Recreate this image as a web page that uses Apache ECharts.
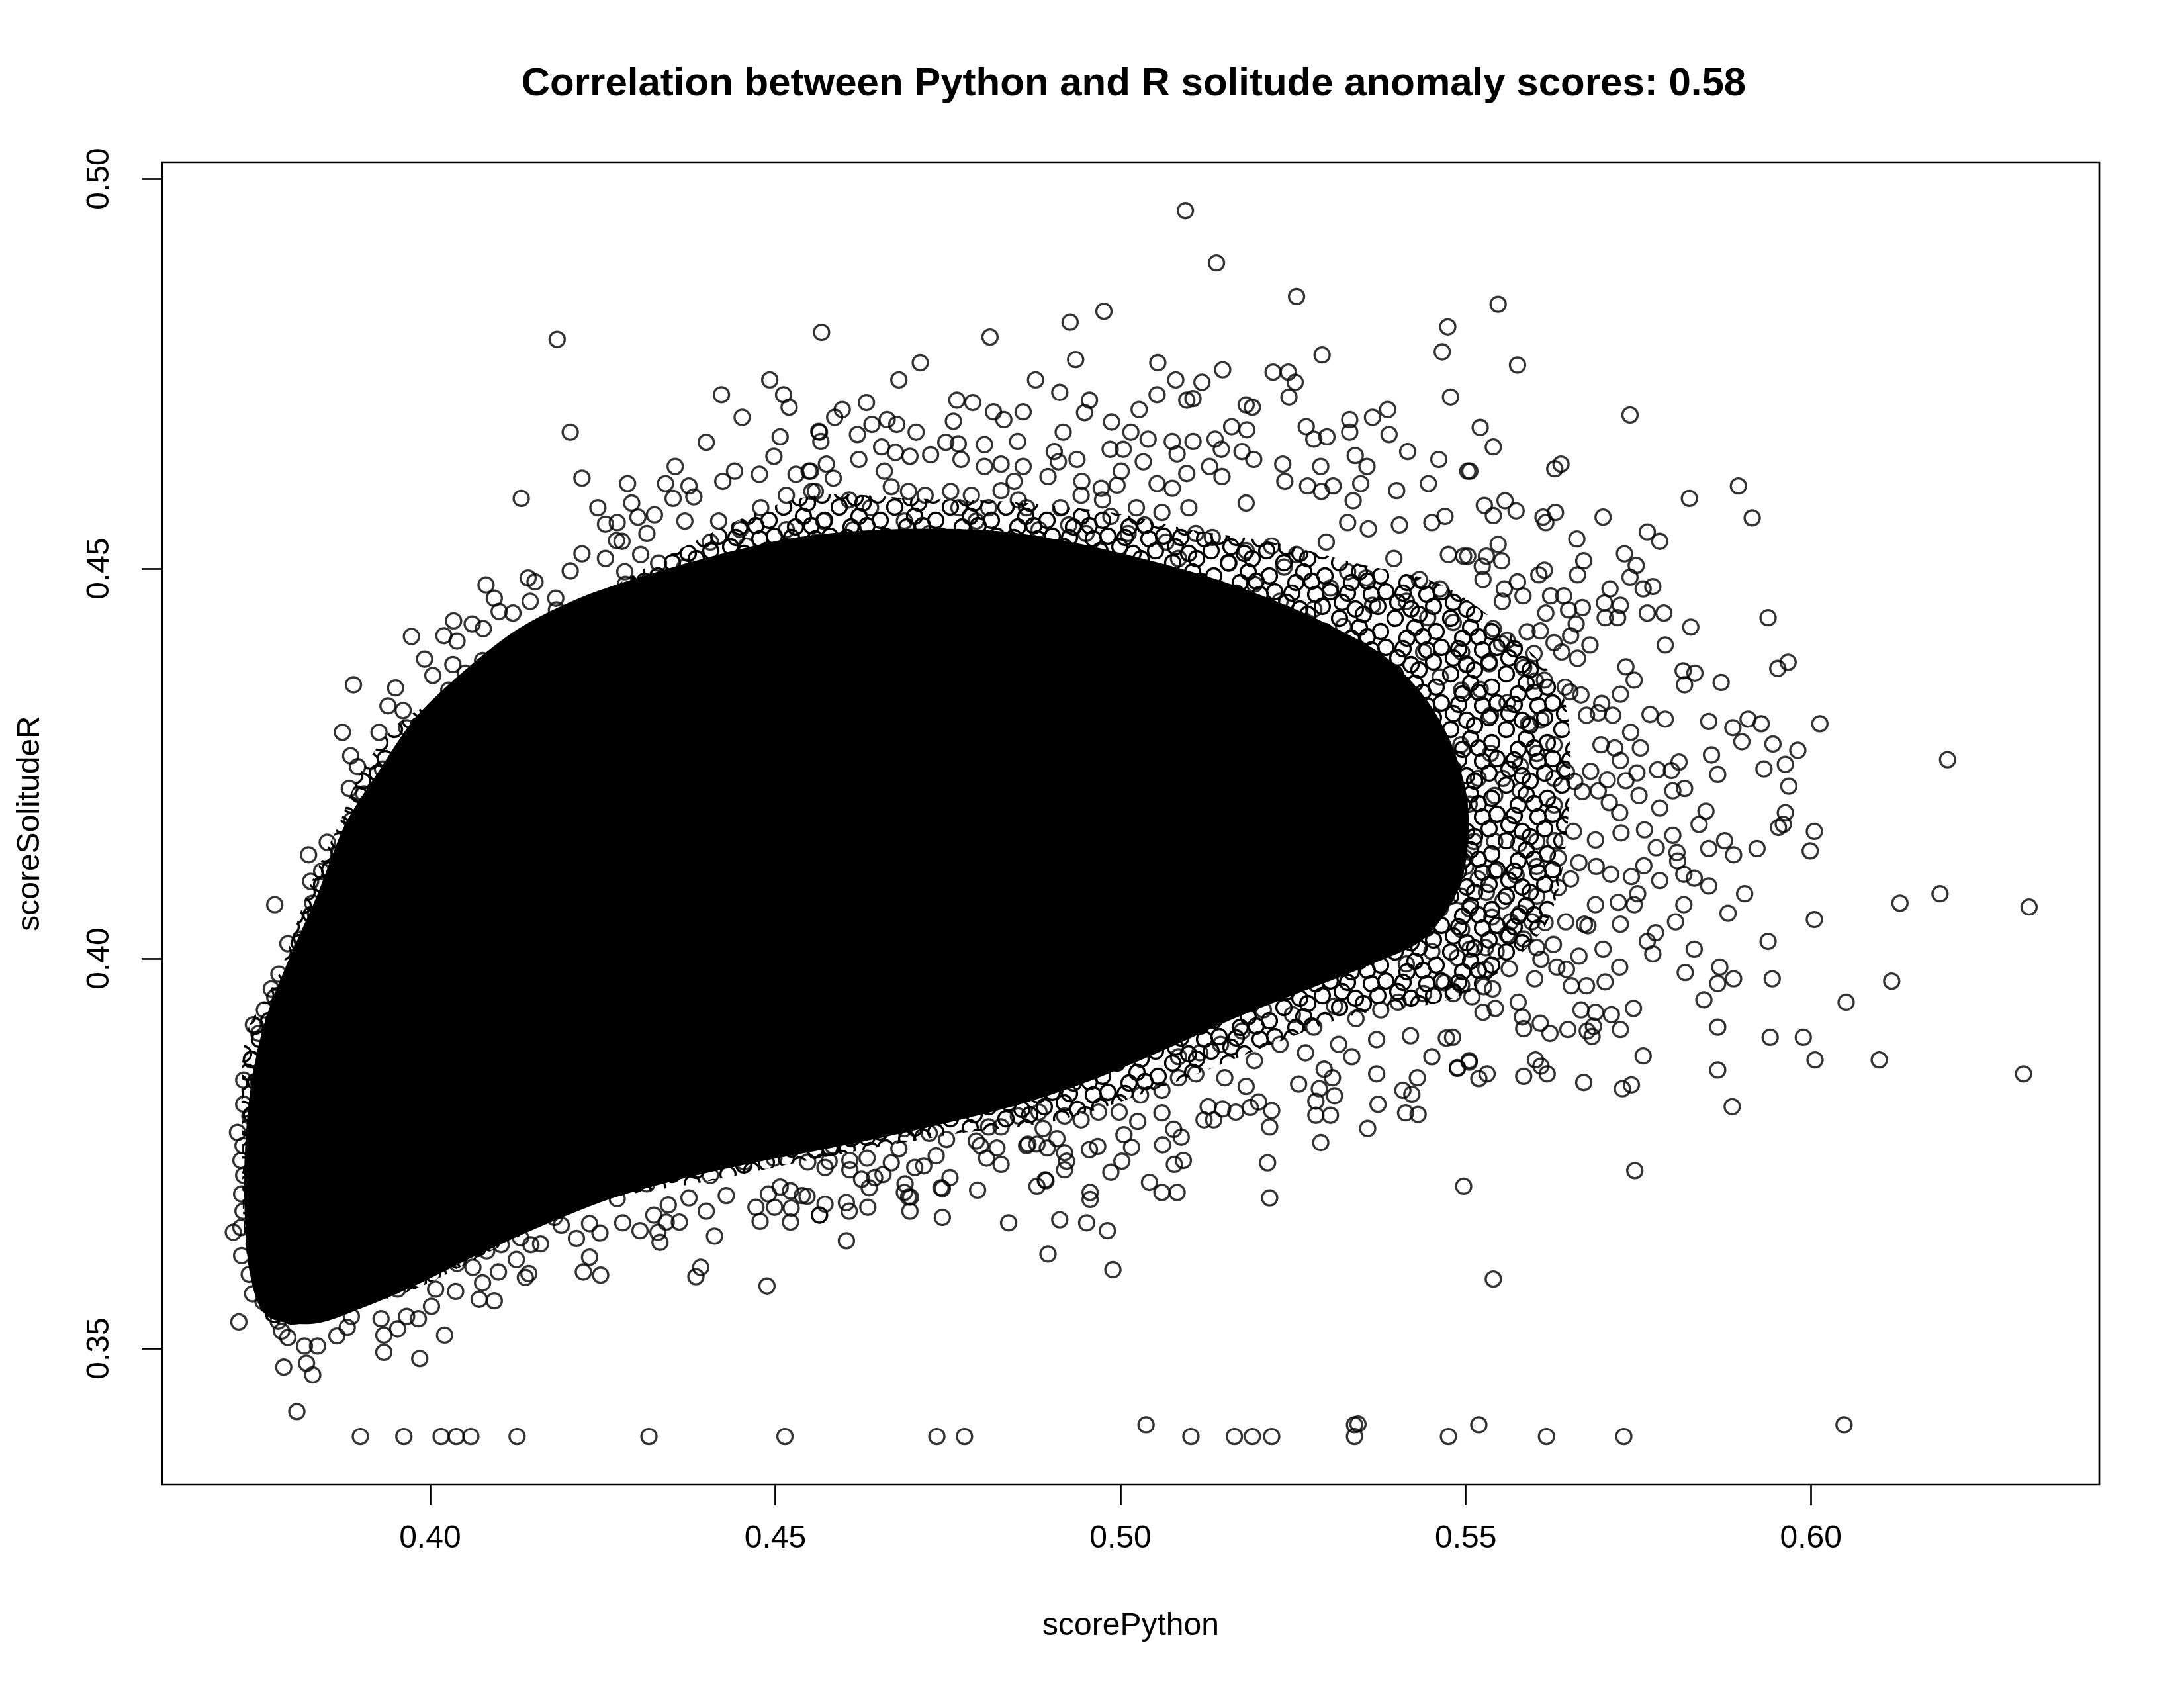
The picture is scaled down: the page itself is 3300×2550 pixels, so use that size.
<!DOCTYPE html>
<html>
<head>
<meta charset="utf-8">
<script src="https://cdn.jsdelivr.net/npm/echarts@6/dist/echarts.min.js"></script>
<style>
html,body{margin:0;padding:0;background:#fff;}
#chart{width:3300px;height:2550px;}
</style>
</head>
<body>
<div id="chart"></div>
<script>
// ---- text ----
const titleText = 'Correlation between Python and R solitude anomaly scores: 0.58';
const xName = 'scorePython';
const yName = 'scoreSolitudeR';
// ---- axes ----
const xTicks = [0.40, 0.45, 0.50, 0.55, 0.60];
const yTicks = [0.35, 0.40, 0.45, 0.50];
const xRange = [0.36119, 0.64177];
const yRange = [0.33251, 0.50212];

// ---- saturated (solid black) core of the point cloud, outline ----
const coreOutline = [
[0.3830,0.3535],[0.3765,0.3545],[0.3742,0.3600],[0.3735,0.3680],[0.3736,0.3760],[0.3745,0.3840],
[0.3765,0.3920],[0.3800,0.4000],[0.3840,0.4080],[0.3880,0.4170],[0.3930,0.4240],[0.3980,0.4305],
[0.4050,0.4365],[0.4130,0.4420],[0.4220,0.4460],[0.4320,0.4490],[0.4420,0.4515],[0.4520,0.4535],
[0.4620,0.4545],[0.4720,0.4548],[0.4820,0.4545],[0.4920,0.4532],[0.5020,0.4512],[0.5120,0.4488],
[0.5210,0.4460],[0.5300,0.4425],[0.5380,0.4385],[0.5440,0.4330],[0.5480,0.4265],[0.5500,0.4190],
[0.5490,0.4100],[0.5440,0.4030],[0.5360,0.3995],[0.5260,0.3960],[0.5160,0.3925],[0.5060,0.3885],
[0.4960,0.3848],[0.4860,0.3818],[0.4760,0.3795],[0.4660,0.3775],[0.4560,0.3757],[0.4460,0.3740],
[0.4360,0.3720],[0.4260,0.3695],[0.4160,0.3660],[0.4060,0.3620],[0.3980,0.3585],[0.3900,0.3555]
];

// ---- outline of the band of heavily overlapping circles around the core ----
const denseOutline = [
[0.3800,0.3530],[0.3760,0.3540],[0.3733,0.3630],[0.3728,0.3760],[0.3733,0.3900],[0.3782,0.3982],
[0.3825,0.4091],[0.3868,0.4172],[0.3898,0.4236],[0.3953,0.4301],[0.4039,0.4345],[0.4130,0.4400],
[0.4222,0.4453],[0.4310,0.4500],[0.4406,0.4545],[0.4490,0.4578],[0.4570,0.4595],[0.4700,0.4590],
[0.4850,0.4585],[0.5000,0.4570],[0.5100,0.4550],[0.5219,0.4534],[0.5341,0.4507],[0.5463,0.4480],
[0.5560,0.4420],[0.5640,0.4340],[0.5650,0.4200],[0.5620,0.4050],[0.5530,0.3970],[0.5463,0.3944],
[0.5341,0.3928],[0.5219,0.3890],[0.5096,0.3847],[0.4913,0.3793],[0.4760,0.3775],[0.4570,0.3745],
[0.4406,0.3715],[0.4222,0.3684],[0.4100,0.3630],[0.3978,0.3576],[0.3880,0.3549]
];

// ---- individual points above the core (left part) ----
const upperLeft = [
[0.4184,0.4794],[0.4567,0.4803],[0.4203,0.4675],[0.4132,0.4590],[0.4220,0.4616],[0.4492,0.4742],
[0.4422,0.4723],[0.4512,0.4723],[0.4520,0.4707],[0.4452,0.4694],[0.4507,0.4669],[0.4400,0.4662],
[0.4498,0.4644],[0.4563,0.4676],[0.4355,0.4631],[0.4286,0.4609],[0.4341,0.4609],[0.4441,0.4625],
[0.4477,0.4621],[0.4549,0.4625],[0.4530,0.4621],[0.4375,0.4606],[0.4352,0.4590],[0.4382,0.4592],
[0.4424,0.4612],[0.4292,0.4584],[0.4243,0.4578],[0.4325,0.4569],[0.4301,0.4566],[0.4254,0.4557],
[0.4271,0.4559],[0.4278,0.4535],[0.4270,0.4536],[0.4220,0.4519],[0.4203,0.4497],[0.4254,0.4513],
[0.4282,0.4496],[0.4314,0.4545],[0.4331,0.4507],[0.4305,0.4518],[0.4142,0.4488],[0.4152,0.4483],
[0.4081,0.4479],[0.4093,0.4462],[0.4100,0.4445],[0.4120,0.4443],[0.4145,0.4458],[0.4182,0.4462],
[0.4034,0.4433],[0.4020,0.4414],[0.4061,0.4429],[0.4077,0.4423],[0.4039,0.4407],[0.3973,0.4413],
[0.3992,0.4384],[0.4004,0.4363],[0.3889,0.4351],[0.3950,0.4347],[0.3939,0.4324],[0.3961,0.4318],
[0.3873,0.4290],[0.3926,0.4290],[0.3966,0.4296],[0.3885,0.4260],[0.3895,0.4246],[0.3931,0.4243],
[0.3883,0.4218],[0.3904,0.4211],[0.3886,0.4177],[0.4033,0.4377],[0.4111,0.4393],[0.4131,0.4383],
[0.4051,0.4366],[0.4076,0.4382],[0.4183,0.4447],[0.4283,0.4480],[0.4320,0.4464],[0.4369,0.4502],
[0.4406,0.4534],[0.4458,0.4529],[0.4479,0.4578],[0.4516,0.4594],[0.4553,0.4599],[0.4418,0.4561],
[0.4369,0.4561],[0.4449,0.4550],[0.4516,0.4550],
[0.4222,0.4426],[0.4253,0.4399],[0.4192,0.4382],[0.4161,0.4361],[0.4149,0.4404],[0.4314,0.4437],
[0.4357,0.4453],[0.4394,0.4480],[0.4437,0.4491],[0.4479,0.4502],[0.4528,0.4513],[0.4559,0.4534],
[0.4498,0.4469],[0.4424,0.4448],[0.4345,0.4415],[0.4284,0.4382],[0.4100,0.4339],[0.4076,0.4318],
[0.4039,0.4301],[0.4008,0.4318],[0.3990,0.4274],[0.3978,0.4252],[0.3953,0.4231],[0.3941,0.4209],
[0.3929,0.4187],[0.4027,0.4344],[0.4131,0.4355],[0.4198,0.4350]
];

// ---- individual points above the core (middle part) ----
const upperMiddle = [
[0.5094,0.4959],[0.5139,0.4892],[0.5255,0.4849],[0.4976,0.4830],[0.4927,0.4816],[0.4811,0.4797],
[0.5474,0.4810],[0.5466,0.4778],[0.5292,0.4774],[0.4935,0.4768],[0.4710,0.4764],[0.5054,0.4764],
[0.5148,0.4755],[0.4679,0.4742],[0.4877,0.4742],[0.5080,0.4742],[0.5221,0.4752],[0.5243,0.4752],
[0.5253,0.4739],[0.5118,0.4739],[0.5244,0.4720],[0.5478,0.4720],[0.4912,0.4726],[0.5053,0.4723],
[0.4632,0.4713],[0.4597,0.4704],[0.4586,0.4694],[0.4955,0.4716],[0.4948,0.4700],[0.5096,0.4716],
[0.5105,0.4718],[0.5027,0.4704],[0.5182,0.4710],[0.5191,0.4707],[0.5387,0.4704],[0.5365,0.4694],
[0.5332,0.4691],[0.4763,0.4716],[0.4786,0.4713],[0.4859,0.4701],[0.4816,0.4701],[0.4831,0.4691],
[0.4564,0.4675],[0.4566,0.4663],[0.4619,0.4672],[0.4640,0.4685],[0.4662,0.4691],[0.4676,0.4685],
[0.4704,0.4675],[0.4758,0.4689],[0.4987,0.4688],[0.5161,0.4682],[0.5183,0.4678],[0.5269,0.4682],
[0.5280,0.4666],[0.5299,0.4669],[0.5332,0.4675],[0.5389,0.4672],[0.5416,0.4650],[0.5461,0.4640],
[0.5503,0.4625],[0.5446,0.4609],[0.5400,0.4600],[0.5340,0.4645],[0.5357,0.4631],[0.5348,0.4609],
[0.5337,0.4587],[0.5290,0.4631],[0.5271,0.4606],[0.5235,0.4634],[0.5238,0.4612],[0.5176,0.4650],
[0.5193,0.4640],[0.5137,0.4666],[0.5146,0.4653],[0.5129,0.4631],[0.5147,0.4618],[0.5096,0.4622],
[0.5105,0.4663],[0.5075,0.4663],[0.5082,0.4647],[0.5053,0.4609],[0.5075,0.4603],[0.5099,0.4578],
[0.5040,0.4666],[0.5015,0.4675],[0.4985,0.4653],[0.5004,0.4653],[0.5033,0.4637],[0.5001,0.4625],
[0.4944,0.4612],[0.4910,0.4637],[0.4937,0.4640],[0.4904,0.4650],[0.4917,0.4675],[0.4851,0.4663],
[0.4803,0.4659],[0.4765,0.4660],[0.4747,0.4662],[0.4827,0.4634],[0.4803,0.4631],[0.4859,0.4631],
[0.4895,0.4618],[0.4769,0.4640],[0.4725,0.4646],[0.4695,0.4644],[0.4674,0.4649],[0.4654,0.4656],
[0.4621,0.4640],[0.4551,0.4625],[0.4574,0.4634],[0.4584,0.4616],[0.4658,0.4625],[0.4846,0.4612],
[0.4827,0.4600],[0.4943,0.4594],[0.4972,0.4603],[0.4995,0.4607],[0.5182,0.4584],[0.5308,0.4606],
[0.5291,0.4599],[0.5329,0.4559],[0.5359,0.4551],[0.5404,0.4556],[0.5451,0.4559],[0.5470,0.4567],
[0.5475,0.4518],[0.5497,0.4516],[0.5463,0.4474],[0.5433,0.4486],[0.5396,0.4513],[0.5356,0.4488],
[0.5329,0.4496],[0.5365,0.4453],[0.5414,0.4458],[0.5445,0.4437],[0.5482,0.4431],[0.5494,0.4393],
[0.5439,0.4393],[0.5463,0.4361],[0.5494,0.4344],[0.5298,0.4534],[0.5255,0.4518],[0.5219,0.4529],
[0.5182,0.4523],[0.5133,0.4540],[0.5157,0.4507],[0.5237,0.4502],[0.5304,0.4475],[0.5280,0.4448],
[0.5323,0.4426],
[0.4558,0.4599],[0.4570,0.4561],[0.4607,0.4588],[0.4638,0.4578],[0.4613,0.4550],[0.4583,0.4518],
[0.4644,0.4534],[0.4668,0.4605],[0.4693,0.4599],[0.4717,0.4594],[0.4687,0.4561],[0.4723,0.4545],
[0.4699,0.4523],[0.4668,0.4507],[0.4754,0.4599],[0.4766,0.4578],[0.4784,0.4594],[0.4791,0.4561],
[0.4754,0.4534],[0.4809,0.4578],[0.4821,0.4534],[0.4852,0.4588],[0.4864,0.4578],[0.4882,0.4550],
[0.4839,0.4507],[0.4913,0.4578],[0.4925,0.4556],[0.4901,0.4518],[0.4950,0.4545],[0.4974,0.4588],
[0.4986,0.4567],[0.5011,0.4545],[0.5023,0.4578],[0.5035,0.4556],[0.5060,0.4572],[0.5066,0.4534],
[0.4974,0.4507],[0.5023,0.4502],[0.5084,0.4513],[0.5109,0.4545],[0.4778,0.4507],[0.4619,0.4491],
[0.4729,0.4491],[0.4888,0.4486],[0.4943,0.4480],[0.5084,0.4475],[0.5133,0.4458],[0.5194,0.4480],
[0.5231,0.4458]
];

// ---- right-hand spread of points ----
const rightSpread = [
[0.5547,0.4839],[0.5575,0.4761],[0.5738,0.4697],[0.5521,0.4681],[0.5540,0.4656],[0.5506,0.4625],
[0.5629,0.4628],[0.5638,0.4634],[0.5895,0.4606],[0.5824,0.4590],[0.5915,0.4565],[0.5527,0.4581],
[0.5540,0.4568],[0.5557,0.4587],[0.5573,0.4574],[0.5612,0.4566],[0.5630,0.4572],[0.5616,0.4559],
[0.5699,0.4566],[0.5661,0.4538],[0.5763,0.4547],[0.5781,0.4535],[0.5730,0.4519],[0.5747,0.4504],
[0.5738,0.4489],[0.5671,0.4510],[0.5662,0.4492],[0.5547,0.4531],[0.5503,0.4516],[0.5530,0.4516],
[0.5552,0.4510],[0.5524,0.4503],[0.5525,0.4486],[0.5575,0.4483],[0.5556,0.4474],[0.5606,0.4492],
[0.5614,0.4498],[0.5583,0.4465],[0.5553,0.4458],[0.5623,0.4465],[0.5642,0.4465],[0.5616,0.4443],
[0.5669,0.4450],[0.5649,0.4447],[0.5709,0.4474],[0.5701,0.4456],[0.5724,0.4453],[0.5702,0.4437],
[0.5720,0.4437],[0.5757,0.4474],[0.5771,0.4477],[0.5763,0.4443],[0.5787,0.4443],[0.5826,0.4425],
[0.5789,0.4402],[0.5938,0.4437],[0.5967,0.4380],[0.5952,0.4372],[0.5870,0.4354],[0.5815,0.4369],
[0.5832,0.4366],[0.5817,0.4351],[0.5732,0.4374],[0.5744,0.4357],[0.5724,0.4339],[0.6013,0.4301],
[0.6198,0.4255],[0.5852,0.4304],[0.5887,0.4296],[0.5909,0.4307],[0.5928,0.4301],[0.5900,0.4278],
[0.5945,0.4275],[0.5981,0.4267],[0.5963,0.4249],[0.5932,0.4243],[0.5968,0.4221],[0.5963,0.4187],
[0.5856,0.4261],[0.5865,0.4236],[0.5767,0.4313],[0.5789,0.4307],[0.5809,0.4252],[0.5778,0.4242],
[0.5798,0.4241],[0.5817,0.4218],[0.5800,0.4215],[0.5848,0.4189],[0.5781,0.4193],[0.5748,0.4238],
[0.5751,0.4209],[0.5732,0.4228],[0.5753,0.4270],[0.5739,0.4290],[0.5716,0.4270],[0.5696,0.4274],
[0.5705,0.4229],[0.5724,0.4254],[0.5723,0.4187],[0.5692,0.4215],[0.5708,0.4200],[0.5669,0.4214],
[0.5658,0.4227],[0.5681,0.4240],[0.5646,0.4239],[0.5628,0.4197],[0.5697,0.4327],[0.5692,0.4315],
[0.5713,0.4312],[0.5675,0.4312],[0.5667,0.4338],[0.5651,0.4342],[0.5644,0.4348],[0.5680,0.4402],
[0.5662,0.4385],[0.5652,0.4414],[0.5660,0.4429],[0.5639,0.4393],[0.5608,0.4420],[0.5628,0.4405],
[0.5589,0.4419],[0.5599,0.4391],[0.5614,0.4357],[0.5601,0.4356],[0.5584,0.4373],[0.5560,0.4408],
[0.5552,0.4404],[0.5540,0.4423],[0.5501,0.4378],[0.5534,0.4378],[0.5521,0.4345],[0.5560,0.4328],
[0.5536,0.4312],[0.5591,0.4301],[0.5609,0.4306],[0.5628,0.4274],[0.5603,0.4263],[0.5579,0.4247],
[0.5554,0.4231],[0.5579,0.4215],[0.5542,0.4209],[0.5518,0.4231],[0.5505,0.4198],[0.5628,0.4231],
[0.5536,0.4263],[0.5493,0.4274],
[0.6316,0.4066],[0.6187,0.4083],[0.6129,0.4071],[0.6117,0.3971],[0.6051,0.3944],[0.6308,0.3852],
[0.6099,0.3870],[0.6006,0.3870],[0.5989,0.3899],[0.5941,0.3899],[0.5944,0.3974],[0.6005,0.4050],
[0.5999,0.4138],[0.6005,0.4163],[0.5938,0.4022],[0.5904,0.4083],[0.5922,0.4141],[0.5880,0.4058],
[0.5888,0.3974],[0.5868,0.3989],[0.5865,0.3968],[0.5845,0.3947],[0.5865,0.3912],[0.5865,0.3857],
[0.5886,0.3810],[0.5757,0.3875],[0.5740,0.3838],[0.5727,0.3833],[0.5671,0.3841],[0.5618,0.3852],
[0.5609,0.3862],[0.5601,0.3870],[0.5584,0.3849],[0.5531,0.3852],[0.5519,0.3846],[0.5505,0.3867],
[0.5488,0.3859],[0.5743,0.3936],[0.5724,0.3909],[0.5711,0.3928],[0.5683,0.3900],[0.5685,0.3913],
[0.5676,0.3907],[0.5688,0.3931],[0.5667,0.3934],[0.5648,0.3909],[0.5622,0.3904],[0.5608,0.3917],
[0.5584,0.3910],[0.5582,0.3925],[0.5576,0.3944],[0.5543,0.3936],[0.5525,0.3931],[0.5509,0.3951],
[0.5494,0.3966],[0.5539,0.3961],[0.5526,0.3964],[0.5481,0.3899],[0.5818,0.3982],[0.5831,0.4012],
[0.5771,0.4006],[0.5763,0.4022],[0.5775,0.4033],[0.5723,0.3989],[0.5702,0.3970],[0.5699,0.4012],
[0.5675,0.3965],[0.5653,0.3965],[0.5664,0.4003],[0.5646,0.3986],[0.5632,0.3989],[0.5627,0.4018],
[0.5600,0.3974],[0.5609,0.3999],[0.5603,0.4014],[0.5584,0.4025],[0.5563,0.3987],[0.5544,0.4009],
[0.5529,0.4014],[0.5529,0.3986],[0.5506,0.4012],[0.5488,0.4001],[0.5804,0.4047],[0.5816,0.4069],
[0.5744,0.4069],[0.5749,0.4083],[0.5724,0.4044],[0.5721,0.4072],[0.5688,0.4069],[0.5672,0.4044],
[0.5677,0.4042],[0.5645,0.4047],[0.5615,0.4046],[0.5596,0.4047],[0.5565,0.4047],[0.5560,0.4031],
[0.5538,0.4053],[0.5505,0.4064],[0.5781,0.4100],[0.5852,0.4093],[0.5831,0.4103],[0.5816,0.4108],
[0.5740,0.4105],[0.5710,0.4108],[0.5758,0.4119],[0.5807,0.4125],[0.5806,0.4136],[0.5776,0.4142],
[0.5852,0.4141],[0.5875,0.4151],[0.5888,0.4133],[0.5800,0.4158],[0.5759,0.4165],[0.5725,0.4161],
[0.5688,0.4152],[0.5656,0.4163],[0.5629,0.4151],[0.5603,0.4150],[0.5577,0.4147],[0.5542,0.4150],
[0.5512,0.4150],[0.5634,0.4129],[0.5664,0.4123],[0.5689,0.4118],[0.5603,0.4118],[0.5573,0.4107],
[0.5542,0.4112],[0.5518,0.4102],[0.5499,0.4129],[0.5634,0.4091],[0.5603,0.4080],[0.5554,0.4074],
[0.5530,0.4085],[0.5493,0.4080],[0.5652,0.4102],[0.5579,0.4058],[0.5960,0.4172],[0.5953,0.4168],
[0.5838,0.4172],[0.5745,0.3728],[0.5540,0.3589],[0.5497,0.3708]
];

// ---- individual points below the core ----
const lowerSpread = [
[0.3775,0.4069],[0.3824,0.4133],[0.3851,0.4149],[0.3868,0.4135],[0.3827,0.4099],[0.3830,0.4071],
[0.3834,0.4057],[0.3843,0.4112],[0.3862,0.4102],[0.3794,0.4019],[0.3814,0.4025],[0.3813,0.3990],
[0.3781,0.3980],[0.3770,0.3961],[0.3775,0.3950],[0.3760,0.3934],[0.3773,0.3920],[0.3744,0.3915],
[0.3752,0.3904],[0.3741,0.3870],[0.3730,0.3844],[0.3753,0.3844],[0.3730,0.3813],[0.3739,0.3798],
[0.3721,0.3777],[0.3729,0.3760],[0.3726,0.3741],[0.3730,0.3722],[0.3727,0.3698],[0.3729,0.3676],
[0.3726,0.3655],[0.3715,0.3649],[0.3727,0.3619],[0.3738,0.3595],[0.3743,0.3570],[0.3758,0.3560],
[0.3723,0.3534],[0.3780,0.3535],[0.3785,0.3522],[0.3794,0.3514],[0.3818,0.3503],[0.3837,0.3503],
[0.3865,0.3516],[0.3788,0.3476],[0.3821,0.3481],[0.3830,0.3466],[0.3807,0.3419],[0.3880,0.3527],
[0.3886,0.3541],[0.3929,0.3538],[0.3933,0.3517],[0.3933,0.3495],[0.3953,0.3525],[0.3966,0.3541],
[0.3985,0.3487],[0.3983,0.3538],[0.4002,0.3554],[0.4021,0.3517],[0.4008,0.3576],[0.4037,0.3573],
[0.4071,0.3563],[0.4093,0.3561],[0.4076,0.3584],[0.4062,0.3604],[0.4099,0.3598],[0.4138,0.3591],
[0.4143,0.3596],[0.4103,0.3633],[0.4131,0.3642],[0.4146,0.3633],[0.4160,0.3634],[0.4190,0.3658],
[0.4212,0.3641],[0.4231,0.3617],[0.4222,0.3598],[0.4247,0.3594],[0.4246,0.3648],[0.4231,0.3660],
[0.4304,0.3651],[0.4324,0.3671],[0.4330,0.3649],[0.4333,0.3636],[0.4342,0.3662],[0.4361,0.3662],
[0.4279,0.3661],[0.4412,0.3644],[0.4392,0.3604],[0.4385,0.3592],[0.4488,0.3580],[0.4400,0.3676],
[0.4375,0.3693],[0.4472,0.3681],[0.4478,0.3663],[0.4499,0.3681],[0.4523,0.3680],[0.4522,0.3662],
[0.4490,0.3698],[0.4507,0.3707],[0.4539,0.3696],[0.4522,0.3702],[0.4564,0.3671],[0.4429,0.3696],
[0.4271,0.3692],[0.4253,0.3706],[0.4192,0.3684],[0.4161,0.3701],[0.4180,0.3668],[0.4039,0.3609],
[0.4002,0.3630],[0.3978,0.3598],[0.3953,0.3576],[0.3911,0.3570],[0.3856,0.3554],[0.3819,0.3543],
[0.3794,0.3570],[0.3764,0.3581],[0.3752,0.3608],[0.4082,0.3625],[0.4125,0.3614],[0.4345,0.3684],
[0.4314,0.3711],[0.4406,0.3722],[0.4455,0.3739],[0.4498,0.3744],[0.4547,0.3739],
[0.3886,0.4161],[0.3898,0.4140],[0.3874,0.4080],[0.3856,0.4037],[0.3831,0.3993],[0.3807,0.3955],
[0.3794,0.3928],[0.3776,0.3890],[0.3764,0.3869],[0.3758,0.3820],[0.3746,0.3760],[0.3743,0.3695],
[0.3749,0.3636],
[0.4603,0.3638],[0.4895,0.3621],[0.4989,0.3601],[0.4838,0.3661],[0.4912,0.3665],[0.4951,0.3661],
[0.4981,0.3651],[0.4742,0.3668],[0.4695,0.3676],[0.4564,0.3671],[0.4572,0.3685],[0.4607,0.3676],
[0.4603,0.3687],[0.4634,0.3681],[0.4693,0.3694],[0.4687,0.3700],[0.4742,0.3705],[0.4793,0.3703],
[0.4879,0.3708],[0.4892,0.3715],[0.4956,0.3700],[0.4956,0.3691],[0.5042,0.3713],[0.5060,0.3700],
[0.5082,0.3700],[0.5216,0.3693],[0.5213,0.3738],[0.5290,0.3764],[0.5358,0.3782],[0.5373,0.3813],
[0.5371,0.3852],[0.5413,0.3802],[0.5431,0.3800],[0.5409,0.3831],[0.5422,0.3826],[0.5430,0.3847],
[0.5283,0.3799],[0.5304,0.3799],[0.5283,0.3817],[0.5288,0.3833],[0.5310,0.3824],[0.5307,0.3847],
[0.5295,0.3858],[0.5258,0.3839],[0.5216,0.3784],[0.5219,0.3805],[0.5200,0.3816],[0.5188,0.3809],
[0.5182,0.3836],[0.5167,0.3803],[0.5148,0.3807],[0.5127,0.3810],[0.5121,0.3793],[0.5135,0.3793],
[0.5091,0.3741],[0.5078,0.3736],[0.5061,0.3761],[0.5077,0.3781],[0.5088,0.3771],[0.5060,0.3802],
[0.5025,0.3791],[0.5005,0.3774],[0.5016,0.3758],[0.5002,0.3740],[0.4986,0.3726],[0.4919,0.3729],
[0.4922,0.3740],[0.4919,0.3751],[0.4955,0.3755],[0.4967,0.3759],[0.4891,0.3716],[0.4908,0.3769],
[0.4894,0.3757],[0.4879,0.3762],[0.4866,0.3762],[0.4827,0.3736],[0.4821,0.3757],[0.4806,0.3744],
[0.4797,0.3760],[0.4753,0.3719],[0.4740,0.3706],[0.4733,0.3747],[0.4715,0.3734],[0.4702,0.3732],
[0.4688,0.3711],[0.4696,0.3694],[0.4668,0.3738],[0.4656,0.3723],[0.4644,0.3719],[0.4636,0.3706],
[0.4625,0.3717],[0.4633,0.3744],[0.4608,0.3729],[0.4608,0.3741],[0.4578,0.3740],[0.4572,0.3732],
[0.4546,0.3695],[0.4679,0.3756],[0.4723,0.3776],[0.4748,0.3768],[0.4791,0.3766],[0.4809,0.3784],
[0.4827,0.3784],[0.4852,0.3798],[0.4882,0.3803],[0.4864,0.3760],[0.4888,0.3782],[0.4919,0.3798],
[0.4943,0.3793],[0.4968,0.3803],[0.4998,0.3803],[0.5029,0.3825],[0.5060,0.3831],[0.5084,0.3847],
[0.5109,0.3852],[0.5151,0.3847],[0.5194,0.3869],[0.5231,0.3890],[0.5268,0.3879],[0.5316,0.3890],
[0.5335,0.3874],[0.5371,0.3896],[0.5420,0.3901],[0.5451,0.3874],[0.5472,0.3898],[0.5488,0.3860],
[0.5505,0.3869],[0.5402,0.3944],[0.5439,0.3955],[0.5482,0.3955],[0.5469,0.3969],[0.5377,0.3934],
[0.5341,0.3923],[0.5310,0.3939],[0.5280,0.3912],[0.5249,0.3928],[0.5207,0.3934],[0.5176,0.3907],
[0.5145,0.3890],[0.5115,0.3879],[0.5084,0.3874],[0.4583,0.3760],[0.4558,0.3755],[0.4613,0.3771],
[0.4644,0.3782],[0.4687,0.3782],
[0.5341,0.4091],[0.5371,0.4064],[0.5402,0.4037],[0.5433,0.4091],[0.5463,0.4064],[0.5494,0.4037],
[0.5451,0.4009],[0.5414,0.3993],[0.5371,0.4009],[0.5329,0.4020],[0.5280,0.3993],[0.5237,0.3966],
[0.5194,0.3966],[0.5151,0.3939],[0.5109,0.3928],[0.5066,0.3917],[0.5023,0.3901],[0.4974,0.3890],
[0.4931,0.3879],[0.4889,0.3869],[0.4846,0.3858],[0.4803,0.3847],[0.4760,0.3836],[0.4717,0.3825],
[0.4674,0.3814],[0.4632,0.3803],[0.4589,0.3793],[0.5500,0.4118],[0.5475,0.4145]
];

// ---- row of points at the minimum R score ----
const floorRow = [
[0.3899,0.3387],[0.3962,0.3387],[0.4016,0.3387],[0.4038,0.3387],[0.4059,0.3387],[0.4126,0.3387],
[0.4317,0.3387],[0.4514,0.3387],[0.4734,0.3387],[0.4774,0.3387],[0.5037,0.3402],[0.5102,0.3387],
[0.5165,0.3387],[0.5191,0.3387],[0.5219,0.3387],[0.5339,0.3387],[0.5339,0.3402],[0.5344,0.3403],
[0.5475,0.3387],[0.5519,0.3402],[0.5617,0.3387],[0.5729,0.3387],[0.6048,0.3402]
];

const allPoints = upperLeft.concat(upperMiddle, rightSpread, lowerSpread, floorRow);

const FONT = '"Liberation Sans", Arial, Helvetica, sans-serif';
const SYM = 23, SW = 3.3;

// texture of overlapping open circles used to fill the dense band (style only)
function makeCircleTexture() {
  const T = 84;
  const c = document.createElement('canvas');
  c.width = T; c.height = T;
  const g = c.getContext('2d');
  g.fillStyle = '#fff'; g.fillRect(0, 0, T, T);
  g.strokeStyle = '#000'; g.lineWidth = SW;
  const spots = [[8,10],[44,4],[70,30],[26,40],[56,58],[12,70],[38,24],[66,76],[50,38],[20,56],[78,54],[32,80]];
  spots.forEach(([cx, cy]) => {
    for (let dx = -T; dx <= T; dx += T) for (let dy = -T; dy <= T; dy += T) {
      g.beginPath(); g.arc(cx + dx, cy + dy, SYM / 2, 0, Math.PI * 2); g.stroke();
    }
  });
  return c;
}
const texture = makeCircleTexture();

const chart = echarts.init(document.getElementById('chart'), null, {renderer: 'canvas'});

function polygonItem(outline, fill) {
  return function (params, api) {
    if (params.dataIndex !== 0) return null;
    const pts = outline.map(p => api.coord(p));
    return {
      type: 'polygon',
      shape: {points: pts, smooth: 0.3},
      style: fill
    };
  };
}

chart.setOption({
  animation: false,
  backgroundColor: '#fff',
  title: {
    text: titleText, left: 1708, textAlign: 'center', top: 92,
    textStyle: {fontFamily: FONT, fontWeight: 'bold', fontSize: 60, color: '#000'}
  },
  grid: {
    left: 245, right: 128, top: 245, bottom: 307,
    show: true, borderColor: '#000', borderWidth: 2.7, backgroundColor: 'transparent'
  },
  xAxis: {
    type: 'value', min: xRange[0], max: xRange[1],
    name: xName, nameLocation: 'middle', nameGap: 190,
    nameTextStyle: {fontFamily: FONT, fontSize: 48, color: '#000'},
    axisLine: {show: false},
    axisTick: {show: true, inside: false, length: 31, customValues: xTicks, lineStyle: {color: '#000', width: 2.7}},
    axisLabel: {show: true, customValues: xTicks, margin: 58, fontFamily: FONT, fontSize: 48, color: '#000',
      formatter: v => v.toFixed(2)},
    splitLine: {show: false}
  },
  yAxis: {
    type: 'value', min: yRange[0], max: yRange[1],
    name: yName, nameLocation: 'middle', nameGap: 175,
    nameTextStyle: {fontFamily: FONT, fontSize: 48, color: '#000'},
    axisLine: {show: false},
    axisTick: {show: true, inside: false, length: 31, customValues: yTicks, lineStyle: {color: '#000', width: 2.7}},
    axisLabel: {show: true, customValues: yTicks, rotate: 90, margin: 70, fontFamily: FONT, fontSize: 48, color: '#000',
      formatter: v => v.toFixed(2)},
    splitLine: {show: false}
  },
  series: [
    {
      type: 'custom',
      data: denseOutline,
      encode: {x: 0, y: 1},
      clip: true,
      silent: true,
      renderItem: polygonItem(denseOutline, {fill: {image: texture, repeat: 'repeat'}, stroke: null})
    },
    {
      type: 'custom',
      data: coreOutline,
      encode: {x: 0, y: 1},
      clip: true,
      silent: true,
      renderItem: polygonItem(coreOutline, {fill: '#000', stroke: '#000', lineWidth: 8, lineJoin: 'round'})
    },
    {
      type: 'scatter',
      data: allPoints,
      symbol: 'circle',
      symbolSize: SYM,
      itemStyle: {color: 'rgba(0,0,0,0)', borderColor: '#000', borderWidth: SW},
      clip: true,
      silent: true,
      large: false
    }
  ]
});
</script>
</body>
</html>
